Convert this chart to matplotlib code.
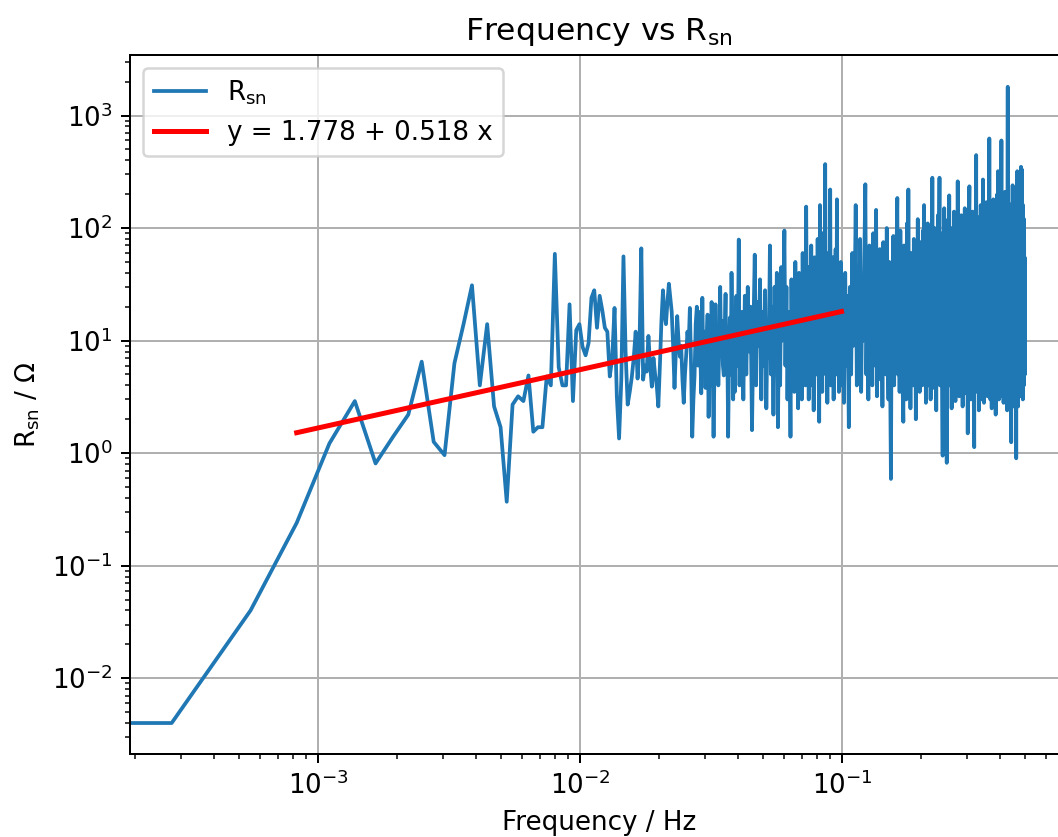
import numpy as np
import matplotlib
matplotlib.use("Agg")
import matplotlib.pyplot as plt

plt.rcParams["font.size"] = 10.45

# Frequency resolution of the spectrum (N = 3623 samples, 1 Hz)
df = 1 / 3623

# R_sn values for k = 0 .. 50 (f = k * df)
r_low = [0.004, 0.004, 0.040, 0.24, 1.22, 2.9, 0.81, 1.4, 2.2, 6.5,
         1.26, 0.96, 6.3, 14, 31, 4.0, 14, 2.6, 1.7, 0.37,
         2.7, 3.2, 2.9, 4.9, 1.55, 1.7, 1.7, 4.8, 4.0, 59,
         5.8, 4.0, 4.0, 21, 2.9, 12.4, 14, 8.8, 7.4, 9.5,
         24, 28, 13, 25, 18.6, 13, 12, 4.8, 7, 19.5,
         3.2]

# k = 51 .. 149
r_mid1 = [1.35, 4.5, 56, 8, 2.7, 3.5, 4.7, 7, 12, 4.6,
          9, 66, 4.5, 6, 5.3, 11, 6, 3.9, 7, 5,
          4, 2.6, 6, 15, 28, 17, 14, 22, 32, 24,
          18, 9, 3.8, 8, 16.5, 10, 7.2, 9, 4.5, 2.8,
          5, 7.5, 12, 9, 19.5, 6, 1.4, 3, 4.9, 14,
          20, 6, 18, 9, 3.4, 24, 5, 12, 3.8, 9,
          17, 2.1, 8, 4, 22, 7, 1.4, 6, 21, 5,
          12, 4, 9, 30, 8, 15, 6, 4.9, 11, 26,
          5, 9, 1.4, 7, 16, 5, 40, 10, 3, 14,
          3.5, 9, 25, 6, 12, 79, 4, 15, 7]

# k = 150 .. 360, every 2nd bin
r_mid2 = [18, 3, 25, 5, 30, 8, 20, 1.6, 12, 58,
          4, 22, 9, 35, 3, 18, 6, 28, 2.5, 14,
          7, 70, 5, 20, 2.2, 30, 8, 40, 1.7, 16,
          4, 45, 10, 25, 95, 6, 30, 3, 18, 12,
          1.4, 35, 5, 22, 3.5, 50, 9, 28, 2.5, 40,
          6, 20, 3, 60, 8, 25, 4, 155, 7, 45,
          3, 30, 10, 70, 4, 22, 2.4, 55, 12, 35,
          5, 80, 8, 1.9, 160, 6, 40, 3.5, 90, 10,
          28, 370, 5, 60, 2.8, 45, 14, 7, 220, 4,
          35, 9, 55, 3, 25, 11, 65, 5, 180, 8,
          40, 3.5, 30, 10, 50, 4]

# k = 364 .. 1808, every 4th bin
r_high = [12, 2.8, 40, 6, 25, 1.7, 30, 5, 60, 9, 20, 160, 4, 35, 7, 80, 3.5, 28, 10, 55,
          245, 5, 30, 3, 70, 8, 22, 4, 90, 12, 6, 145, 3.2, 40, 9, 65, 4.5, 25, 2.6, 75,
          7, 35, 5, 100, 10, 3, 50, 6, 0.59, 30, 8, 85, 4, 20, 12, 60, 185, 5, 40, 3.5,
          95, 7, 30, 4, 1.9, 70, 10, 45, 3, 110, 6, 220, 8, 35, 2.5, 60, 12, 25, 4, 80,
          6, 50, 2.0, 40, 9, 120, 5, 30, 3.5, 75, 11, 45, 4, 95, 7, 160, 5, 35, 2.8, 65,
          8, 110, 4, 40, 13, 80, 3, 55, 9, 280, 6, 45, 3.8, 100, 10, 30, 2.4, 70, 7, 130,
          5, 60, 280, 4, 90, 12, 40, 3.5, 0.95, 75, 8, 150, 5, 50, 2.2, 85, 0.82, 30, 9, 120,
          6, 195, 4, 70, 11, 45, 2.5, 100, 7, 60, 3.8, 140, 10, 35, 2.9, 90, 6, 55, 4.5, 260,
          8, 75, 3.2, 110, 12, 45, 5, 130, 7, 60, 2.6, 95, 9, 40, 4, 150, 6, 70, 3.4, 105,
          10, 50, 1.5, 85, 7, 120, 235, 5, 65, 3, 100, 11, 45, 4.2, 140, 8, 55, 2.7, 1.13, 90,
          6, 70, 12, 445, 5, 80, 3.5, 125, 9, 50, 2.4, 110, 7, 65, 4, 160, 10, 45, 3, 95,
          6, 270, 8, 60, 2.8, 130, 11, 75, 4.5, 100, 5, 170, 9, 50, 3.2, 120, 7, 80, 4, 625,
          6, 90, 3, 140, 10, 60, 2.5, 115, 8, 75, 4.2, 180, 12, 55, 3.5, 130, 6, 95, 2.2, 150,
          9, 70, 4, 200, 7, 320, 5, 85, 3, 140, 11, 60, 4.8, 175, 8, 100, 600, 6, 75, 3.2,
          155, 10, 65, 2.8, 125, 7, 90, 4, 210, 12, 55, 3.5, 145, 6, 80, 2.4, 110, 1800, 8, 70,
          4, 165, 11, 60, 3, 130, 6, 95, 4.5, 1.25, 120, 9, 75, 3.2, 240, 7, 55, 2.6, 140, 10,
          85, 4, 180, 6, 60, 3, 110, 0.9, 75, 8, 45, 320, 5, 95, 2.6, 150, 9, 70, 4, 125,
          7, 60, 3.2, 200, 11, 350, 5, 85, 3.5, 330, 8, 100, 3, 160, 6, 75, 4, 120, 9, 55,
          5, 16]

# Linear fit in log-log space: log10(R) = a + b * log10(f)
fit_a = 1.778
fit_b = 0.518
fit_fmin = 3 * df
fit_fmax = 0.1

# Frequency axis of each block
k = np.concatenate([
    np.arange(len(r_low)),
    51 + np.arange(len(r_mid1)),
    150 + 2 * np.arange(len(r_mid2)),
    364 + 4 * np.arange(len(r_high)),
])
freq = k * df
r_sn = np.array(r_low + r_mid1 + r_mid2 + r_high)

fit_f = freq[(freq >= fit_fmin) & (freq <= fit_fmax)]
fit_r = 10 ** (fit_a + fit_b * np.log10(fit_f))

fig = plt.figure(figsize=(1058 / 180, 837 / 180), dpi=180)
# the original picture is cut on the right, so the axes run past the edge
ax = fig.add_axes([0.1229, 0.0996, 0.8866, 0.835])

ax.plot(freq, r_sn, color="tab:blue", lw=1.5, label=r"R$_\mathrm{sn}$")
ax.plot(fit_f, fit_r, color="red", lw=2, label=f"y = {fit_a} + {fit_b} x")

ax.set_xscale("log")
ax.set_yscale("log")
ax.set_xlim(10 ** -3.718, 10 ** -0.138)
ax.set_ylim(10 ** -2.67, 10 ** 3.54)
ax.spines["right"].set_visible(False)

ax.set_xlabel("Frequency / Hz")
ax.set_ylabel(r"R$_\mathrm{sn}$ / Ω")
ax.set_title(r"Frequency vs R$_\mathrm{sn}$")
ax.legend(loc="upper left")
ax.grid()

fig.savefig("out.png", dpi=180)
